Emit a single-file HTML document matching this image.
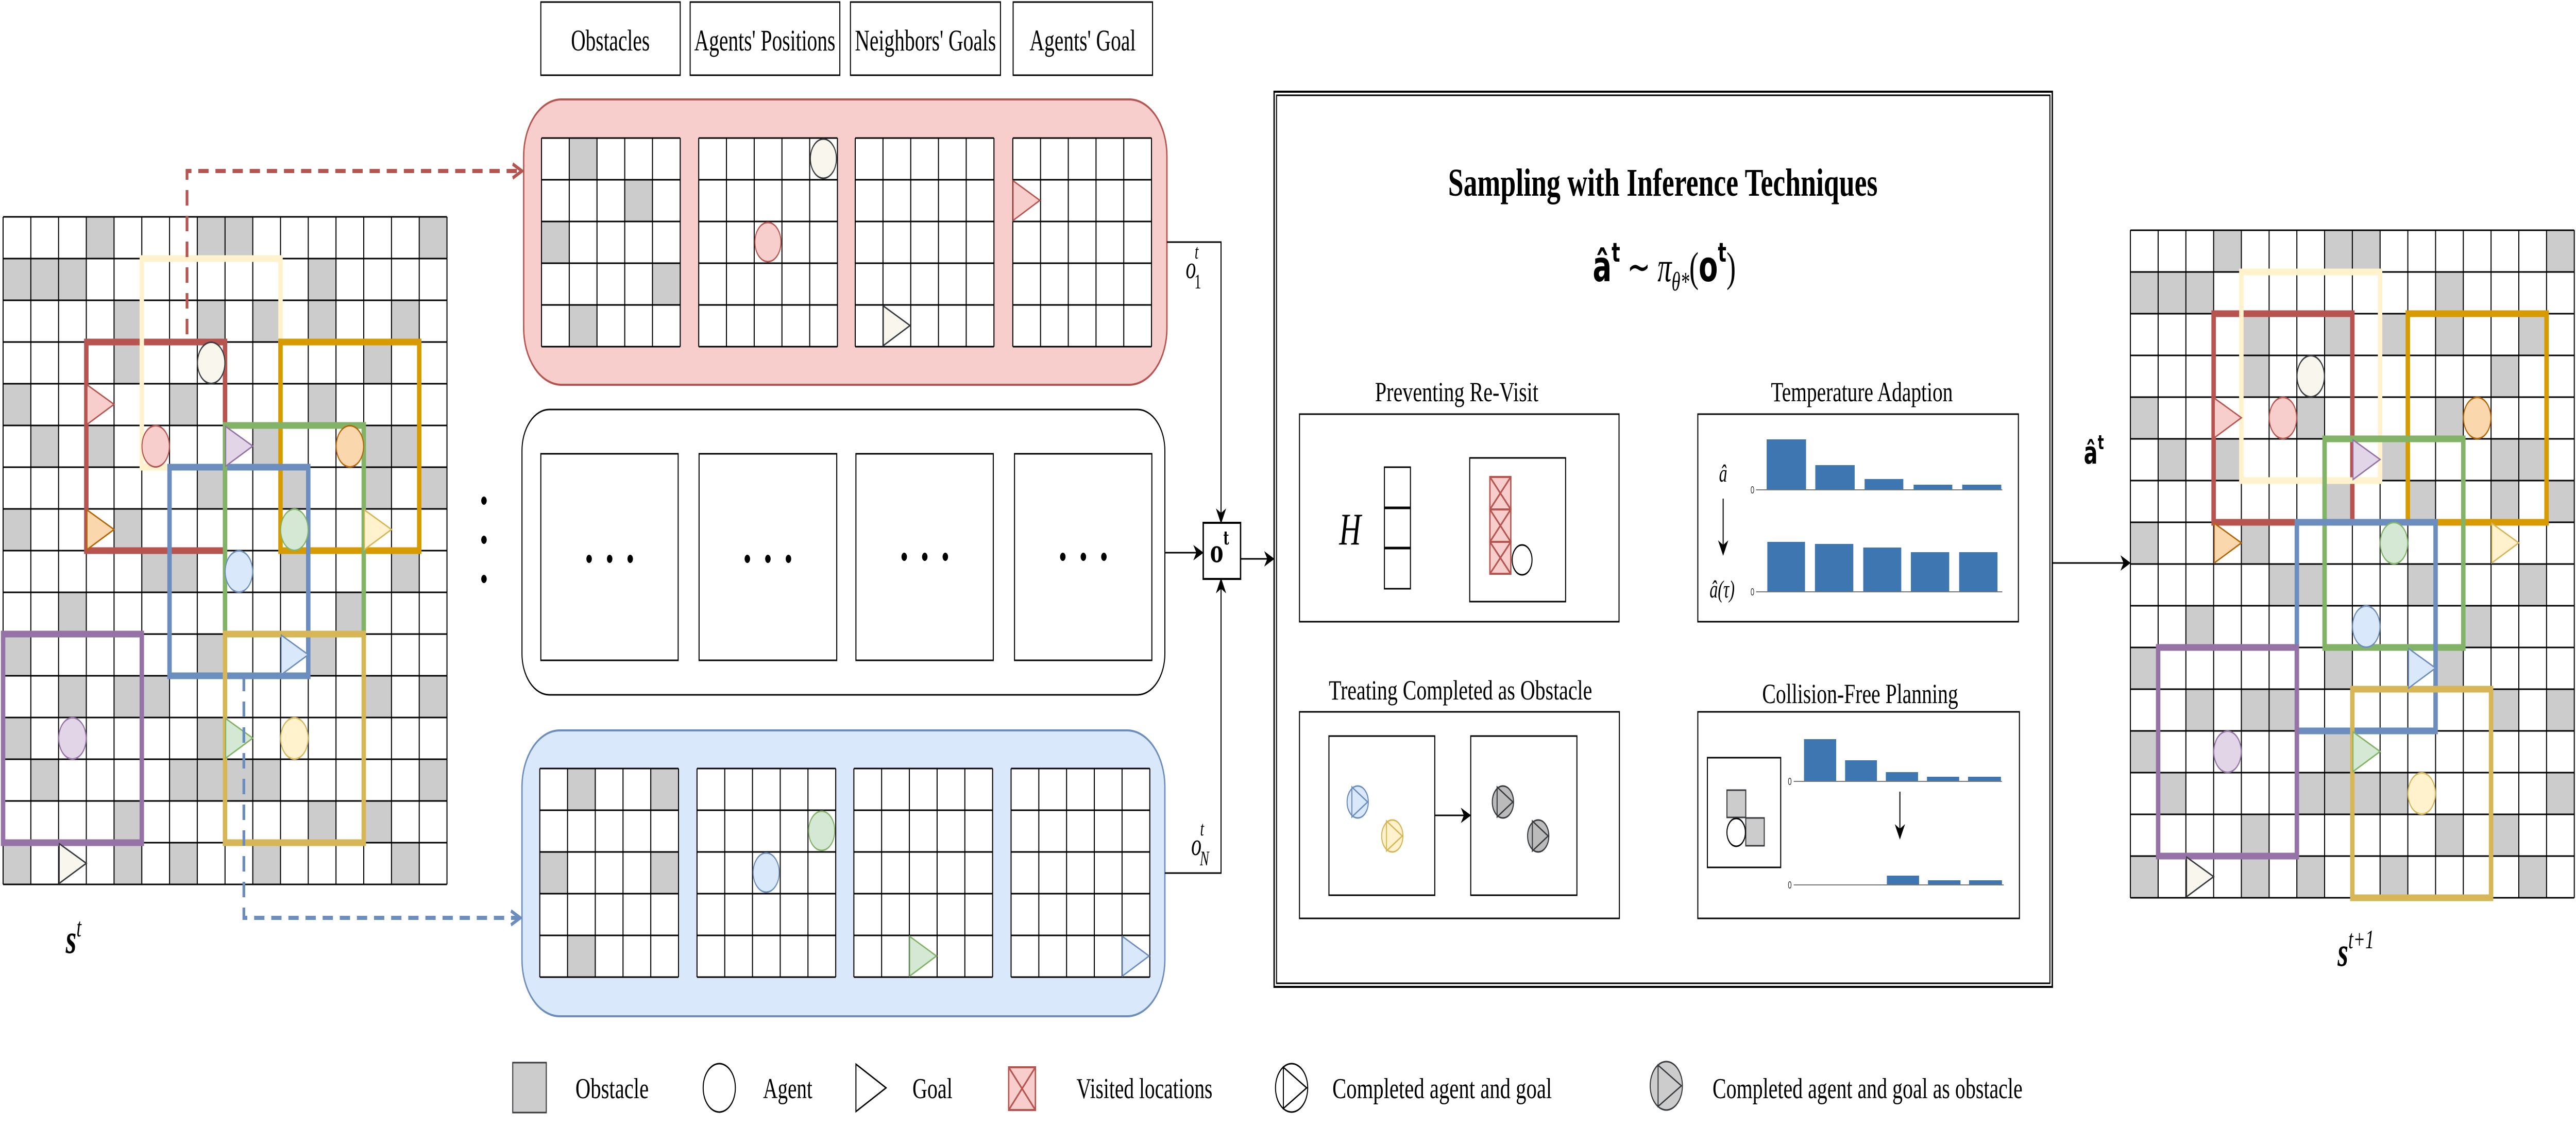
<!DOCTYPE html>
<html><head><meta charset="utf-8"><style>html,body{margin:0;padding:0;background:#fff;overflow:hidden;width:100%;height:100%}svg{display:block;width:100vw;height:100vh}</style></head>
<body>
<svg xmlns="http://www.w3.org/2000/svg" viewBox="0 0 7521 2188" preserveAspectRatio="none" font-family="'Liberation Serif', serif">
<defs>
<marker id="ab" viewBox="0 0 10 10" refX="9" refY="5" markerWidth="30" markerHeight="30" markerUnits="userSpaceOnUse" orient="auto"><path d="M0,0 L10,5 L0,10 L3,5 z" fill="#000"/></marker>
<marker id="ar" viewBox="0 0 10 10" refX="9" refY="5" markerWidth="34" markerHeight="34" markerUnits="userSpaceOnUse" orient="auto"><path d="M1,1 L9,5 L1,9" fill="none" stroke="#b85450" stroke-width="2"/></marker>
<marker id="abl" viewBox="0 0 10 10" refX="9" refY="5" markerWidth="34" markerHeight="34" markerUnits="userSpaceOnUse" orient="auto"><path d="M1,1 L9,5 L1,9" fill="none" stroke="#6c8ebf" stroke-width="2"/></marker>
<g id="grid">
<rect x="0" y="0" width="1296" height="1296" fill="#fff"/>
<g fill="#cccccc">
<rect x="243" y="0" width="81" height="81"/><rect x="567" y="0" width="81" height="81"/><rect x="648" y="0" width="81" height="81"/><rect x="1215" y="0" width="81" height="81"/>
<rect x="0" y="81" width="81" height="81"/><rect x="81" y="81" width="81" height="81"/><rect x="162" y="81" width="81" height="81"/><rect x="891" y="81" width="81" height="81"/>
<rect x="324" y="162" width="81" height="81"/><rect x="567" y="162" width="81" height="81"/><rect x="729" y="162" width="81" height="81"/><rect x="891" y="162" width="81" height="81"/><rect x="1134" y="162" width="81" height="81"/>
<rect x="324" y="243" width="81" height="81"/><rect x="1053" y="243" width="81" height="81"/>
<rect x="0" y="324" width="81" height="81"/><rect x="486" y="324" width="81" height="81"/><rect x="891" y="324" width="81" height="81"/>
<rect x="81" y="405" width="81" height="81"/><rect x="243" y="405" width="81" height="81"/><rect x="729" y="405" width="81" height="81"/><rect x="1053" y="405" width="81" height="81"/><rect x="1134" y="405" width="81" height="81"/>
<rect x="567" y="486" width="81" height="81"/><rect x="810" y="486" width="81" height="81"/><rect x="1053" y="486" width="81" height="81"/><rect x="1215" y="486" width="81" height="81"/>
<rect x="0" y="567" width="81" height="81"/><rect x="324" y="567" width="81" height="81"/>
<rect x="405" y="648" width="81" height="81"/><rect x="486" y="648" width="81" height="81"/><rect x="810" y="648" width="81" height="81"/><rect x="1134" y="648" width="81" height="81"/>
<rect x="162" y="729" width="81" height="81"/><rect x="972" y="729" width="81" height="81"/>
<rect x="0" y="810" width="81" height="81"/><rect x="567" y="810" width="81" height="81"/><rect x="891" y="810" width="81" height="81"/>
<rect x="162" y="891" width="81" height="81"/><rect x="324" y="891" width="81" height="81"/><rect x="405" y="891" width="81" height="81"/><rect x="1053" y="891" width="81" height="81"/><rect x="1215" y="891" width="81" height="81"/>
<rect x="0" y="972" width="81" height="81"/><rect x="567" y="972" width="81" height="81"/>
<rect x="81" y="1053" width="81" height="81"/><rect x="486" y="1053" width="81" height="81"/><rect x="567" y="1053" width="81" height="81"/><rect x="648" y="1053" width="81" height="81"/><rect x="729" y="1053" width="81" height="81"/><rect x="1215" y="1053" width="81" height="81"/>
<rect x="324" y="1134" width="81" height="81"/><rect x="891" y="1134" width="81" height="81"/><rect x="1053" y="1134" width="81" height="81"/>
<rect x="0" y="1215" width="81" height="81"/><rect x="324" y="1215" width="81" height="81"/><rect x="486" y="1215" width="81" height="81"/><rect x="729" y="1215" width="81" height="81"/><rect x="1134" y="1215" width="81" height="81"/>
</g>
<path d="M0 0V1296M81 0V1296M162 0V1296M243 0V1296M324 0V1296M405 0V1296M486 0V1296M567 0V1296M648 0V1296M729 0V1296M810 0V1296M891 0V1296M972 0V1296M1053 0V1296M1134 0V1296M1215 0V1296M1296 0V1296M0 0H1296M0 81H1296M0 162H1296M0 243H1296M0 324H1296M0 405H1296M0 486H1296M0 567H1296M0 648H1296M0 729H1296M0 810H1296M0 891H1296M0 972H1296M0 1053H1296M0 1134H1296M0 1215H1296M0 1296H1296" stroke="#000" stroke-width="3" fill="none"/>
</g>
<g id="goals" stroke-width="3">
<path d="M245 326L324 364L245 403z" fill="#f8cecc" stroke="#b85450"/>
<path d="M650 407L729 445L650 484z" fill="#e1d5e7" stroke="#9673a6"/>
<path d="M245 569L324 607L245 646z" fill="#fad7ac" stroke="#b46504"/>
<path d="M1055 569L1134 607L1055 646z" fill="#fff2cc" stroke="#d6b656"/>
<path d="M812 812L891 850L812 889z" fill="#dae8fc" stroke="#6c8ebf"/>
<path d="M650 974L729 1012L650 1051z" fill="#d5e8d4" stroke="#82b366"/>
<path d="M164 1217L243 1255L164 1294z" fill="#f9f7ed" stroke="#36393d"/>
</g>
<path id="mg" d="M0 0V405M81 0V405M162 0V405M243 0V405M324 0V405M405 0V405M0 0H405M0 81H405M0 162H405M0 243H405M0 324H405M0 405H405" stroke="#000" stroke-width="3" fill="none"/>
</defs>

<rect x="0" y="0" width="7521" height="2188" fill="#fff"/>

<!-- header boxes -->
<g fill="#fff" stroke="#000" stroke-width="3">
<rect x="1579" y="4" width="407" height="142"/><rect x="2015" y="4" width="437" height="142"/><rect x="2483" y="4" width="438" height="142"/><rect x="2958" y="4" width="407" height="142"/>
</g>
<g font-size="58" text-anchor="middle">
<text x="1782" y="98" textLength="230" lengthAdjust="spacingAndGlyphs">Obstacles</text>
<text x="2233" y="98" textLength="412" lengthAdjust="spacingAndGlyphs">Agents' Positions</text>
<text x="2702" y="98" textLength="412" lengthAdjust="spacingAndGlyphs">Neighbors' Goals</text>
<text x="3161" y="98" textLength="310" lengthAdjust="spacingAndGlyphs">Agents' Goal</text>
</g>

<!-- left grid -->
<g transform="translate(9,421)">
<use href="#grid"/>
<g fill="none" stroke-width="13">
<rect x="243" y="243" width="405" height="405" stroke="#b85450"/>
<rect x="405" y="81" width="405" height="405" stroke="#fff2cc"/>
<rect x="810" y="243" width="405" height="405" stroke="#d79b00"/>
<rect x="486" y="486" width="405" height="405" stroke="#6c8ebf"/>
<rect x="648" y="405" width="405" height="405" stroke="#82b366"/>
<rect x="0" y="810" width="405" height="405" stroke="#9673a6"/>
<rect x="648" y="810" width="405" height="405" stroke="#d6b656"/>
</g>
<use href="#goals"/>
<g stroke-width="3">
<circle cx="607.5" cy="283.5" r="40" fill="#f9f7ed" stroke="#36393d"/>
<circle cx="445.5" cy="445.5" r="40" fill="#f8cecc" stroke="#b85450"/>
<circle cx="1012.5" cy="445.5" r="40" fill="#fad7ac" stroke="#b46504"/>
<circle cx="850.5" cy="607.5" r="40" fill="#d5e8d4" stroke="#82b366"/>
<circle cx="688.5" cy="688.5" r="40" fill="#dae8fc" stroke="#6c8ebf"/>
<circle cx="202.5" cy="1012.5" r="40" fill="#e1d5e7" stroke="#9673a6"/>
<circle cx="850.5" cy="1012.5" r="40" fill="#fff2cc" stroke="#d6b656"/>
</g>
</g>
<text x="192" y="1850" font-size="80" font-style="italic" font-weight="bold">s<tspan font-size="52" dy="-32" font-weight="normal">t</tspan></text>

<!-- dashed connectors -->
<path d="M546 649V332H1524" fill="none" stroke="#b85450" stroke-width="8" stroke-dasharray="30,20" marker-end="url(#ar)"/>
<path d="M712 1312V1782H1519" fill="none" stroke="#6c8ebf" stroke-width="8" stroke-dasharray="30,20" marker-end="url(#abl)"/>

<!-- pink panel -->
<rect x="1529" y="193" width="1878" height="554" rx="110" ry="110" fill="#f8cecc" stroke="#b85450" stroke-width="4"/>
<g transform="translate(1581,268)"><rect width="405" height="405" fill="#fff"/><g fill="#ccc"><rect x="81" y="0" width="81" height="81"/><rect x="243" y="81" width="81" height="81"/><rect x="0" y="162" width="81" height="81"/><rect x="324" y="243" width="81" height="81"/><rect x="81" y="324" width="81" height="81"/></g><use href="#mg"/></g>
<g transform="translate(2040,268)"><rect width="405" height="405" fill="#fff"/><use href="#mg"/><circle cx="364" cy="40" r="38" fill="#f9f7ed" stroke="#36393d" stroke-width="3"/><circle cx="202" cy="202" r="38" fill="#f8cecc" stroke="#b85450" stroke-width="3"/></g>
<g transform="translate(2497,268)"><rect width="405" height="405" fill="#fff"/><use href="#mg"/><path d="M82 326L160 364L82 403z" fill="#f9f7ed" stroke="#36393d" stroke-width="3"/></g>
<g transform="translate(2957,268)"><rect width="405" height="405" fill="#fff"/><use href="#mg"/><path d="M1 83L79 121L1 160z" fill="#f8cecc" stroke="#b85450" stroke-width="3"/></g>
<text x="3462" y="540" font-size="60" font-style="italic">o<tspan font-size="40" dx="-4" dy="-38">t</tspan><tspan font-size="40" dx="-12" dy="58" font-style="normal">1</tspan></text>

<!-- middle panel -->
<rect x="1524" y="795" width="1877" height="554" rx="80" ry="80" fill="#fff" stroke="#000" stroke-width="3"/>
<g fill="#fff" stroke="#000" stroke-width="3">
<rect x="1579" y="881" width="401" height="401"/><rect x="2041" y="881" width="402" height="401"/><rect x="2499" y="881" width="401" height="401"/><rect x="2962" y="881" width="401" height="401"/>
</g>
<g fill="#000">
<circle cx="1720" cy="1085" r="8"/><circle cx="1780" cy="1085" r="8"/><circle cx="1840" cy="1085" r="8"/>
<circle cx="2182" cy="1085" r="8"/><circle cx="2242" cy="1085" r="8"/><circle cx="2302" cy="1085" r="8"/>
<circle cx="2640" cy="1081" r="8"/><circle cx="2700" cy="1081" r="8"/><circle cx="2760" cy="1081" r="8"/>
<circle cx="3103" cy="1081" r="8"/><circle cx="3163" cy="1081" r="8"/><circle cx="3223" cy="1081" r="8"/>
<circle cx="1413" cy="972" r="8"/><circle cx="1413" cy="1048" r="8"/><circle cx="1413" cy="1124" r="8"/>
</g>

<!-- blue panel -->
<rect x="1524" y="1418" width="1877" height="555" rx="110" ry="110" fill="#dae8fc" stroke="#6c8ebf" stroke-width="4"/>
<g transform="translate(1576,1492)"><rect width="405" height="405" fill="#fff"/><g fill="#ccc"><rect x="81" y="0" width="81" height="81"/><rect x="324" y="0" width="81" height="81"/><rect x="0" y="162" width="81" height="81"/><rect x="324" y="162" width="81" height="81"/><rect x="81" y="324" width="81" height="81"/></g><use href="#mg"/></g>
<g transform="translate(2035,1492)"><rect width="405" height="405" fill="#fff"/><use href="#mg"/><circle cx="364" cy="121" r="38" fill="#d5e8d4" stroke="#82b366" stroke-width="3"/><circle cx="202" cy="202" r="38" fill="#dae8fc" stroke="#6c8ebf" stroke-width="3"/></g>
<g transform="translate(2493,1492)"><rect width="405" height="405" fill="#fff"/><use href="#mg"/><path d="M163 326L241 364L163 403z" fill="#d5e8d4" stroke="#82b366" stroke-width="3"/></g>
<g transform="translate(2952,1492)"><rect width="405" height="405" fill="#fff"/><use href="#mg"/><path d="M325 326L403 364L325 403z" fill="#dae8fc" stroke="#6c8ebf" stroke-width="3"/></g>
<text x="3478" y="1660" font-size="60" font-style="italic">o<tspan font-size="40" dx="-4" dy="-38">t</tspan><tspan font-size="40" dx="-12" dy="58">N</tspan></text>

<!-- connectors to o^t -->
<g fill="none" stroke="#000" stroke-width="3">
<path d="M3407 470H3565V1014" marker-end="url(#ab)"/>
<path d="M3401 1073H3511" marker-end="url(#ab)"/>
<path d="M3401 1695H3565V1125" marker-end="url(#ab)"/>
<path d="M3623 1085H3718" marker-end="url(#ab)"/>
<path d="M5992 1093H6218" marker-end="url(#ab)"/>
</g>
<rect x="3513" y="1015" width="109" height="109" fill="#fff" stroke="#000" stroke-width="4"/>
<text x="3533" y="1091" font-family="'DejaVu Serif', serif" font-weight="bold" font-size="58">o<tspan font-size="36" dy="-34">t</tspan></text>

<!-- big box -->
<rect x="3720" y="178" width="2272" height="1738" fill="#fff" stroke="#000" stroke-width="4"/>
<rect x="3727" y="185" width="2258" height="1724" fill="none" stroke="#000" stroke-width="3"/>
<text x="4855" y="380" font-size="76" font-weight="bold" text-anchor="middle" textLength="1254" lengthAdjust="spacingAndGlyphs">Sampling with Inference Techniques</text>
<text x="4650" y="546" font-size="82"><tspan font-family="'DejaVu Sans', sans-serif" font-weight="bold">â</tspan><tspan font-family="'DejaVu Sans', sans-serif" font-weight="bold" font-size="52" dy="-38">t</tspan><tspan dy="38" dx="20">∼ </tspan><tspan font-style="italic">π</tspan><tspan font-style="italic" font-size="52" dy="18">θ*</tspan><tspan dy="-18">(</tspan><tspan font-family="'DejaVu Sans', sans-serif" font-weight="bold">o</tspan><tspan font-family="'DejaVu Sans', sans-serif" font-weight="bold" font-size="52" dy="-38">t</tspan><tspan dy="38">)</tspan></text>

<!-- sub-box titles -->
<g font-size="54" text-anchor="middle">
<text x="4253" y="779" textLength="477" lengthAdjust="spacingAndGlyphs">Preventing Re-Visit</text>
<text x="5436" y="779" textLength="531" lengthAdjust="spacingAndGlyphs">Temperature Adaption</text>
<text x="4264" y="1358" textLength="769" lengthAdjust="spacingAndGlyphs">Treating Completed as Obstacle</text>
<text x="5431" y="1365" textLength="572" lengthAdjust="spacingAndGlyphs">Collision-Free Planning</text>
</g>

<g fill="none" stroke="#000" stroke-width="3">
<rect x="3794" y="804" width="933" height="403"/>
<rect x="4957" y="804" width="936" height="403"/>
<rect x="3794" y="1382" width="934" height="401"/>
<rect x="4957" y="1382" width="939" height="401"/>
<rect x="4042" y="907" width="76" height="236"/>
<path d="M4042 986H4118M4042 1064H4118" stroke-width="5"/>
<rect x="4291" y="889" width="280" height="279"/>
<rect x="3880" y="1429" width="309" height="309"/>
<rect x="4294" y="1429" width="310" height="309"/>
<rect x="4985" y="1471" width="214" height="213"/>
</g>
<text x="3910" y="1057" font-size="88" font-style="italic">H</text>
<g fill="#f8cecc" stroke="#b85450" stroke-width="4">
<rect x="4350" y="926" width="61" height="63"/><rect x="4350" y="989" width="61" height="63"/><rect x="4350" y="1052" width="61" height="62"/>
<path d="M4350 926L4411 989M4411 926L4350 989M4350 989L4411 1052M4411 989L4350 1052M4350 1052L4411 1114M4411 1052L4350 1114" fill="none"/>
</g>
<circle cx="4444" cy="1087" r="29" fill="#fff" stroke="#000" stroke-width="3"/>

<!-- temperature -->
<text x="5031" y="935" font-size="48" font-style="italic" text-anchor="middle">â</text>
<path d="M5031 968V1076" stroke="#000" stroke-width="3" marker-end="url(#ab)"/>
<text x="5028" y="1160" font-size="48" font-style="italic" text-anchor="middle">â(τ)</text>
<g fill="#3d76b0">
<rect x="5158" y="853" width="115" height="98"/><rect x="5300" y="903" width="115" height="48"/><rect x="5444" y="930" width="113" height="21"/><rect x="5587" y="941" width="113" height="10"/><rect x="5729" y="941" width="114" height="10"/>
<rect x="5160" y="1052" width="110" height="97"/><rect x="5299" y="1056" width="112" height="93"/><rect x="5440" y="1063" width="111" height="86"/><rect x="5579" y="1072" width="112" height="77"/><rect x="5720" y="1072" width="112" height="77"/>
<rect x="5267" y="1435" width="94" height="82"/><rect x="5387" y="1476" width="93" height="41"/><rect x="5506" y="1499" width="94" height="18"/><rect x="5626" y="1508" width="94" height="9"/><rect x="5746" y="1508" width="96" height="9"/>
<rect x="5509" y="1700" width="94" height="18"/><rect x="5629" y="1709" width="95" height="9"/><rect x="5749" y="1709" width="96" height="9"/>
</g>
<g stroke="#777" stroke-width="2">
<path d="M5127 951H5846M5127 1149H5846M5237 1517H5845M5237 1718H5850"/>
</g>
<g font-size="20" font-family="'Liberation Sans', sans-serif" fill="#333" text-anchor="end">
<text x="5122" y="958">0</text><text x="5122" y="1156">0</text><text x="5231" y="1524">0</text><text x="5231" y="1725">0</text>
</g>
<path d="M5547 1537V1627" stroke="#000" stroke-width="3" marker-end="url(#ab)"/>

<!-- treating completed -->
<path d="M4189 1583H4292" stroke="#000" stroke-width="3" marker-end="url(#ab)"/>
<g stroke-width="3">
<circle cx="3964" cy="1557" r="31" fill="#dae8fc" stroke="#6c8ebf"/><path d="M3947 1528L3993 1557L3947 1586z" fill="none" stroke="#6c8ebf"/>
<circle cx="4065" cy="1623" r="31" fill="#fff2cc" stroke="#d6b656"/><path d="M4048 1594L4094 1623L4048 1652z" fill="none" stroke="#d6b656"/>
<circle cx="4388" cy="1557" r="31" fill="#bbb" stroke="#36393d"/><path d="M4371 1528L4417 1557L4371 1586z" fill="none" stroke="#36393d"/>
<circle cx="4491" cy="1623" r="31" fill="#bbb" stroke="#36393d"/><path d="M4474 1594L4520 1623L4474 1652z" fill="none" stroke="#36393d"/>
</g>
<!-- collision -->
<g fill="#ccc" stroke="#36393d" stroke-width="3">
<rect x="5042" y="1534" width="55" height="53"/><rect x="5097" y="1588" width="54" height="54"/>
</g>
<circle cx="5069" cy="1616" r="27" fill="#fff" stroke="#000" stroke-width="3"/>

<text x="6084" y="900" font-size="60"><tspan font-family="'DejaVu Sans', sans-serif" font-weight="bold">â</tspan><tspan font-family="'DejaVu Sans', sans-serif" font-weight="bold" font-size="38" dy="-28">t</tspan></text>

<!-- right grid -->
<g transform="translate(6220,447)">
<use href="#grid"/>
<g fill="none" stroke-width="13">
<rect x="243" y="162" width="405" height="405" stroke="#b85450"/>
<rect x="324" y="81" width="405" height="405" stroke="#fff2cc"/>
<rect x="810" y="162" width="405" height="405" stroke="#d79b00"/>
<rect x="567" y="405" width="405" height="405" stroke="#82b366"/>
<rect x="486" y="567" width="405" height="405" stroke="#6c8ebf"/>
<rect x="81" y="810" width="405" height="405" stroke="#9673a6"/>
<rect x="648" y="891" width="405" height="405" stroke="#d6b656"/>
</g>
<use href="#goals"/>
<g stroke-width="3">
<circle cx="526.5" cy="283.5" r="40" fill="#f9f7ed" stroke="#36393d"/>
<circle cx="445.5" cy="364.5" r="40" fill="#f8cecc" stroke="#b85450"/>
<circle cx="1012.5" cy="364.5" r="40" fill="#fad7ac" stroke="#b46504"/>
<circle cx="769.5" cy="607.5" r="40" fill="#d5e8d4" stroke="#82b366"/>
<circle cx="688.5" cy="769.5" r="40" fill="#dae8fc" stroke="#6c8ebf"/>
<circle cx="283.5" cy="1012.5" r="40" fill="#e1d5e7" stroke="#9673a6"/>
<circle cx="850.5" cy="1093.5" r="40" fill="#fff2cc" stroke="#d6b656"/>
</g>
</g>
<text x="6825" y="1875" font-size="80" font-style="italic" font-weight="bold">s<tspan font-size="52" dy="-34" font-weight="normal">t+1</tspan></text>

<!-- legend -->
<rect x="1497" y="2063" width="98" height="97" fill="#ccc" stroke="#36393d" stroke-width="3"/>
<circle cx="2100" cy="2112" r="47" fill="#fff" stroke="#000" stroke-width="3"/>
<path d="M2499 2066L2587 2112L2499 2158z" fill="#fff" stroke="#000" stroke-width="3"/>
<rect x="2945" y="2072" width="78" height="83" fill="#f8cecc" stroke="#b85450" stroke-width="4"/>
<path d="M2945 2072L3023 2155M3023 2072L2945 2155" stroke="#b85450" stroke-width="4"/>
<circle cx="3771" cy="2112" r="47" fill="#fff" stroke="#000" stroke-width="3"/>
<path d="M3747 2072L3815 2112L3747 2152z" fill="none" stroke="#000" stroke-width="3"/>
<circle cx="4865" cy="2108" r="47" fill="#ccc" stroke="#36393d" stroke-width="3"/>
<path d="M4841 2068L4909 2108L4841 2148z" fill="none" stroke="#36393d" stroke-width="3"/>
<g font-size="56">
<text x="1680" y="2132" textLength="214" lengthAdjust="spacingAndGlyphs">Obstacle</text>
<text x="2228" y="2132" textLength="144" lengthAdjust="spacingAndGlyphs">Agent</text>
<text x="2664" y="2132" textLength="117" lengthAdjust="spacingAndGlyphs">Goal</text>
<text x="3143" y="2132" textLength="397" lengthAdjust="spacingAndGlyphs">Visited locations</text>
<text x="3890" y="2132" textLength="641" lengthAdjust="spacingAndGlyphs">Completed agent and goal</text>
<text x="5000" y="2132" textLength="905" lengthAdjust="spacingAndGlyphs">Completed agent and goal as obstacle</text>
</g>
</svg>
</body></html>
